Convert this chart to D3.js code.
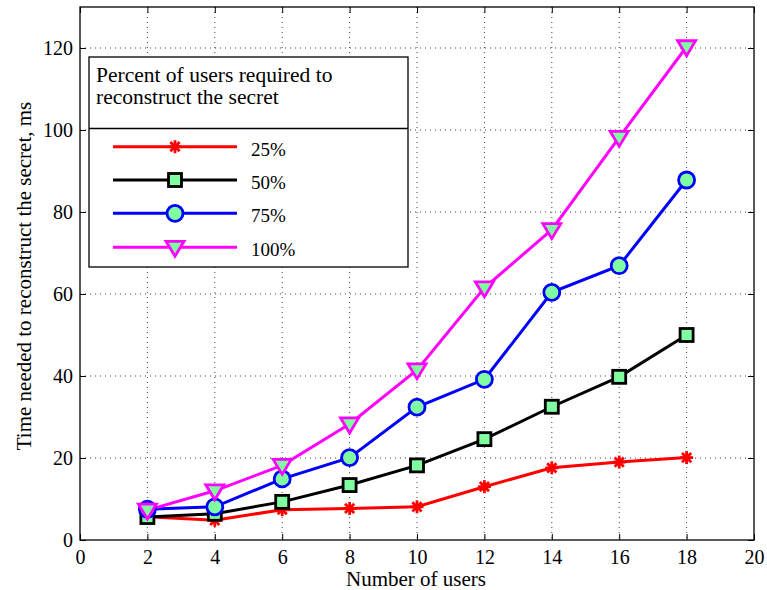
<!DOCTYPE html>
<html><head><meta charset="utf-8">
<script src="https://cdn.jsdelivr.net/npm/d3@7"></script>
<style>body{margin:0;background:#fff}svg{display:block}</style>
</head><body><svg id="c" width="767" height="590" style="font-family:'Liberation Serif'"></svg>
<script>
const users = [2,4,6,8,10,12,14,16,18];
const s25 = [5.7,4.8,7.4,7.7,8.1,13.0,17.6,19.0,20.1];
const s50 = [5.6,6.4,9.3,13.4,18.2,24.6,32.5,39.8,50.0];
const s75 = [7.5,8.1,14.9,20.1,32.4,39.2,60.4,66.9,87.8];
const s100 = [7.3,12.0,18.2,28.3,41.5,61.5,75.7,98.2,120.3];
const seriesNames = ["25%","50%","75%","100%"];
const seriesColors = ["#ff0000","#000000","#0000ff","#ff00ff"];
const seriesMarkers = ["star","square","circle","triangle"];
const xTicks = [0,2,4,6,8,10,12,14,16,18,20];
const yTicks = [0,20,40,60,80,100,120];
const legendTitle = ["Percent of users required to","reconstruct the secret"];
const xLabel = "Number of users";
const yLabel = "Time needed to reconstruct the secret, ms";
const fillGreen = "#7fff9f";
const FONT = "Liberation Serif";

const svg = d3.select("#c");
const L=80,R=754,T=7,B=540;
const x = d3.scaleLinear().domain([0,20]).range([L,R]);
const y = d3.scaleLinear().domain([0,130]).range([B,T]);

const g = svg.append("g");
g.selectAll("line.vx").data(xTicks.slice(1,-1)).enter().append("line")
 .attr("x1",d=>x(d)).attr("x2",d=>x(d)).attr("y1",T).attr("y2",B)
 .attr("stroke","#444").attr("stroke-width",1).attr("stroke-dasharray","1,4");
g.selectAll("line.hy").data(yTicks.slice(1)).enter().append("line")
 .attr("x1",L).attr("x2",R).attr("y1",d=>y(d)).attr("y2",d=>y(d))
 .attr("stroke","#444").attr("stroke-width",1).attr("stroke-dasharray","1,4");

svg.append("rect").attr("x",L).attr("y",T).attr("width",R-L).attr("height",B-T)
 .attr("fill","none").attr("stroke","#000").attr("stroke-width",1.3);

const xa = svg.append("g").attr("transform",`translate(0,${B})`)
 .call(d3.axisBottom(x).tickValues(xTicks).tickSizeInner(-6).tickSizeOuter(0).tickPadding(10));
const xa2 = svg.append("g").attr("transform",`translate(0,${T})`)
 .call(d3.axisTop(x).tickValues(xTicks).tickSizeInner(-6).tickSizeOuter(0).tickFormat(""));
const ya = svg.append("g").attr("transform",`translate(${L},0)`)
 .call(d3.axisLeft(y).tickValues(yTicks).tickSizeInner(-6).tickSizeOuter(0).tickPadding(7));
const ya2 = svg.append("g").attr("transform",`translate(${R},0)`)
 .call(d3.axisRight(y).tickValues(yTicks).tickSizeInner(-6).tickSizeOuter(0).tickFormat(""));
[xa,xa2,ya,ya2].forEach(a=>{a.attr("font-family",FONT).attr("font-size",20);
 a.select(".domain").remove();a.selectAll("line").attr("stroke","#000");
 a.selectAll("text").attr("fill","#000");});

svg.append("text").attr("x",416).attr("y",586).attr("text-anchor","middle")
 .attr("font-family",FONT).attr("font-size",21).text(xLabel);
svg.append("text").attr("transform",`translate(31,276) rotate(-90)`).attr("text-anchor","middle")
 .attr("font-family",FONT).attr("font-size",21).text(yLabel);

function marker(sel,type,color){
 if(type==="star"){
  const r=6.5;
  for(let i=0;i<4;i++){const a=i*Math.PI/4;
   sel.append("line").attr("x1",-r*Math.cos(a)).attr("y1",-r*Math.sin(a)).attr("x2",r*Math.cos(a)).attr("y2",r*Math.sin(a))
    .attr("stroke",color).attr("stroke-width",2.8);}
 } else if(type==="square"){
  sel.append("rect").attr("x",-6.5).attr("y",-6.5).attr("width",13).attr("height",13)
   .attr("fill",fillGreen).attr("stroke",color).attr("stroke-width",2.8);
 } else if(type==="circle"){
  sel.append("circle").attr("r",8).attr("fill",fillGreen).attr("stroke",color).attr("stroke-width",2.8);
 } else {
  sel.append("path").attr("d","M-9,-6L9,-6L0,9Z").attr("fill",fillGreen).attr("stroke",color).attr("stroke-width",2.8);
 }
}

const allSeries=[s25,s50,s75,s100];
const line = d3.line().x((d,i)=>x(users[i])).y(d=>y(d));
allSeries.forEach((s,k)=>{
 svg.append("path").attr("d",line(s)).attr("fill","none").attr("stroke",seriesColors[k]).attr("stroke-width",3);
});
allSeries.forEach((s,k)=>{
 s.forEach((v,i)=>{ const m=svg.append("g").attr("transform",`translate(${x(users[i])},${y(v)})`); marker(m,seriesMarkers[k],seriesColors[k]); });
});

const lg = svg.append("g").attr("font-family",FONT);
lg.append("rect").attr("x",89).attr("y",57).attr("width",319).attr("height",210).attr("fill","#fff").attr("stroke","#000").attr("stroke-width",1.3);
lg.append("line").attr("x1",89).attr("x2",408).attr("y1",128.5).attr("y2",128.5).attr("stroke","#000").attr("stroke-width",1.3);
legendTitle.forEach((t,i)=>lg.append("text").attr("x",96).attr("y",81.5+i*22).attr("font-size",21.5).text(t));
const rows=[146.7,180,213.3,247.3];
seriesNames.forEach((n,k)=>{
 lg.append("line").attr("x1",113).attr("x2",237).attr("y1",rows[k]).attr("y2",rows[k]).attr("stroke",seriesColors[k]).attr("stroke-width",3);
 const m=lg.append("g").attr("transform",`translate(175,${rows[k]})`); marker(m,seriesMarkers[k],seriesColors[k]);
 lg.append("text").attr("x",251).attr("y",rows[k]+9).attr("font-size",19).text(n);
});
</script></body></html>
